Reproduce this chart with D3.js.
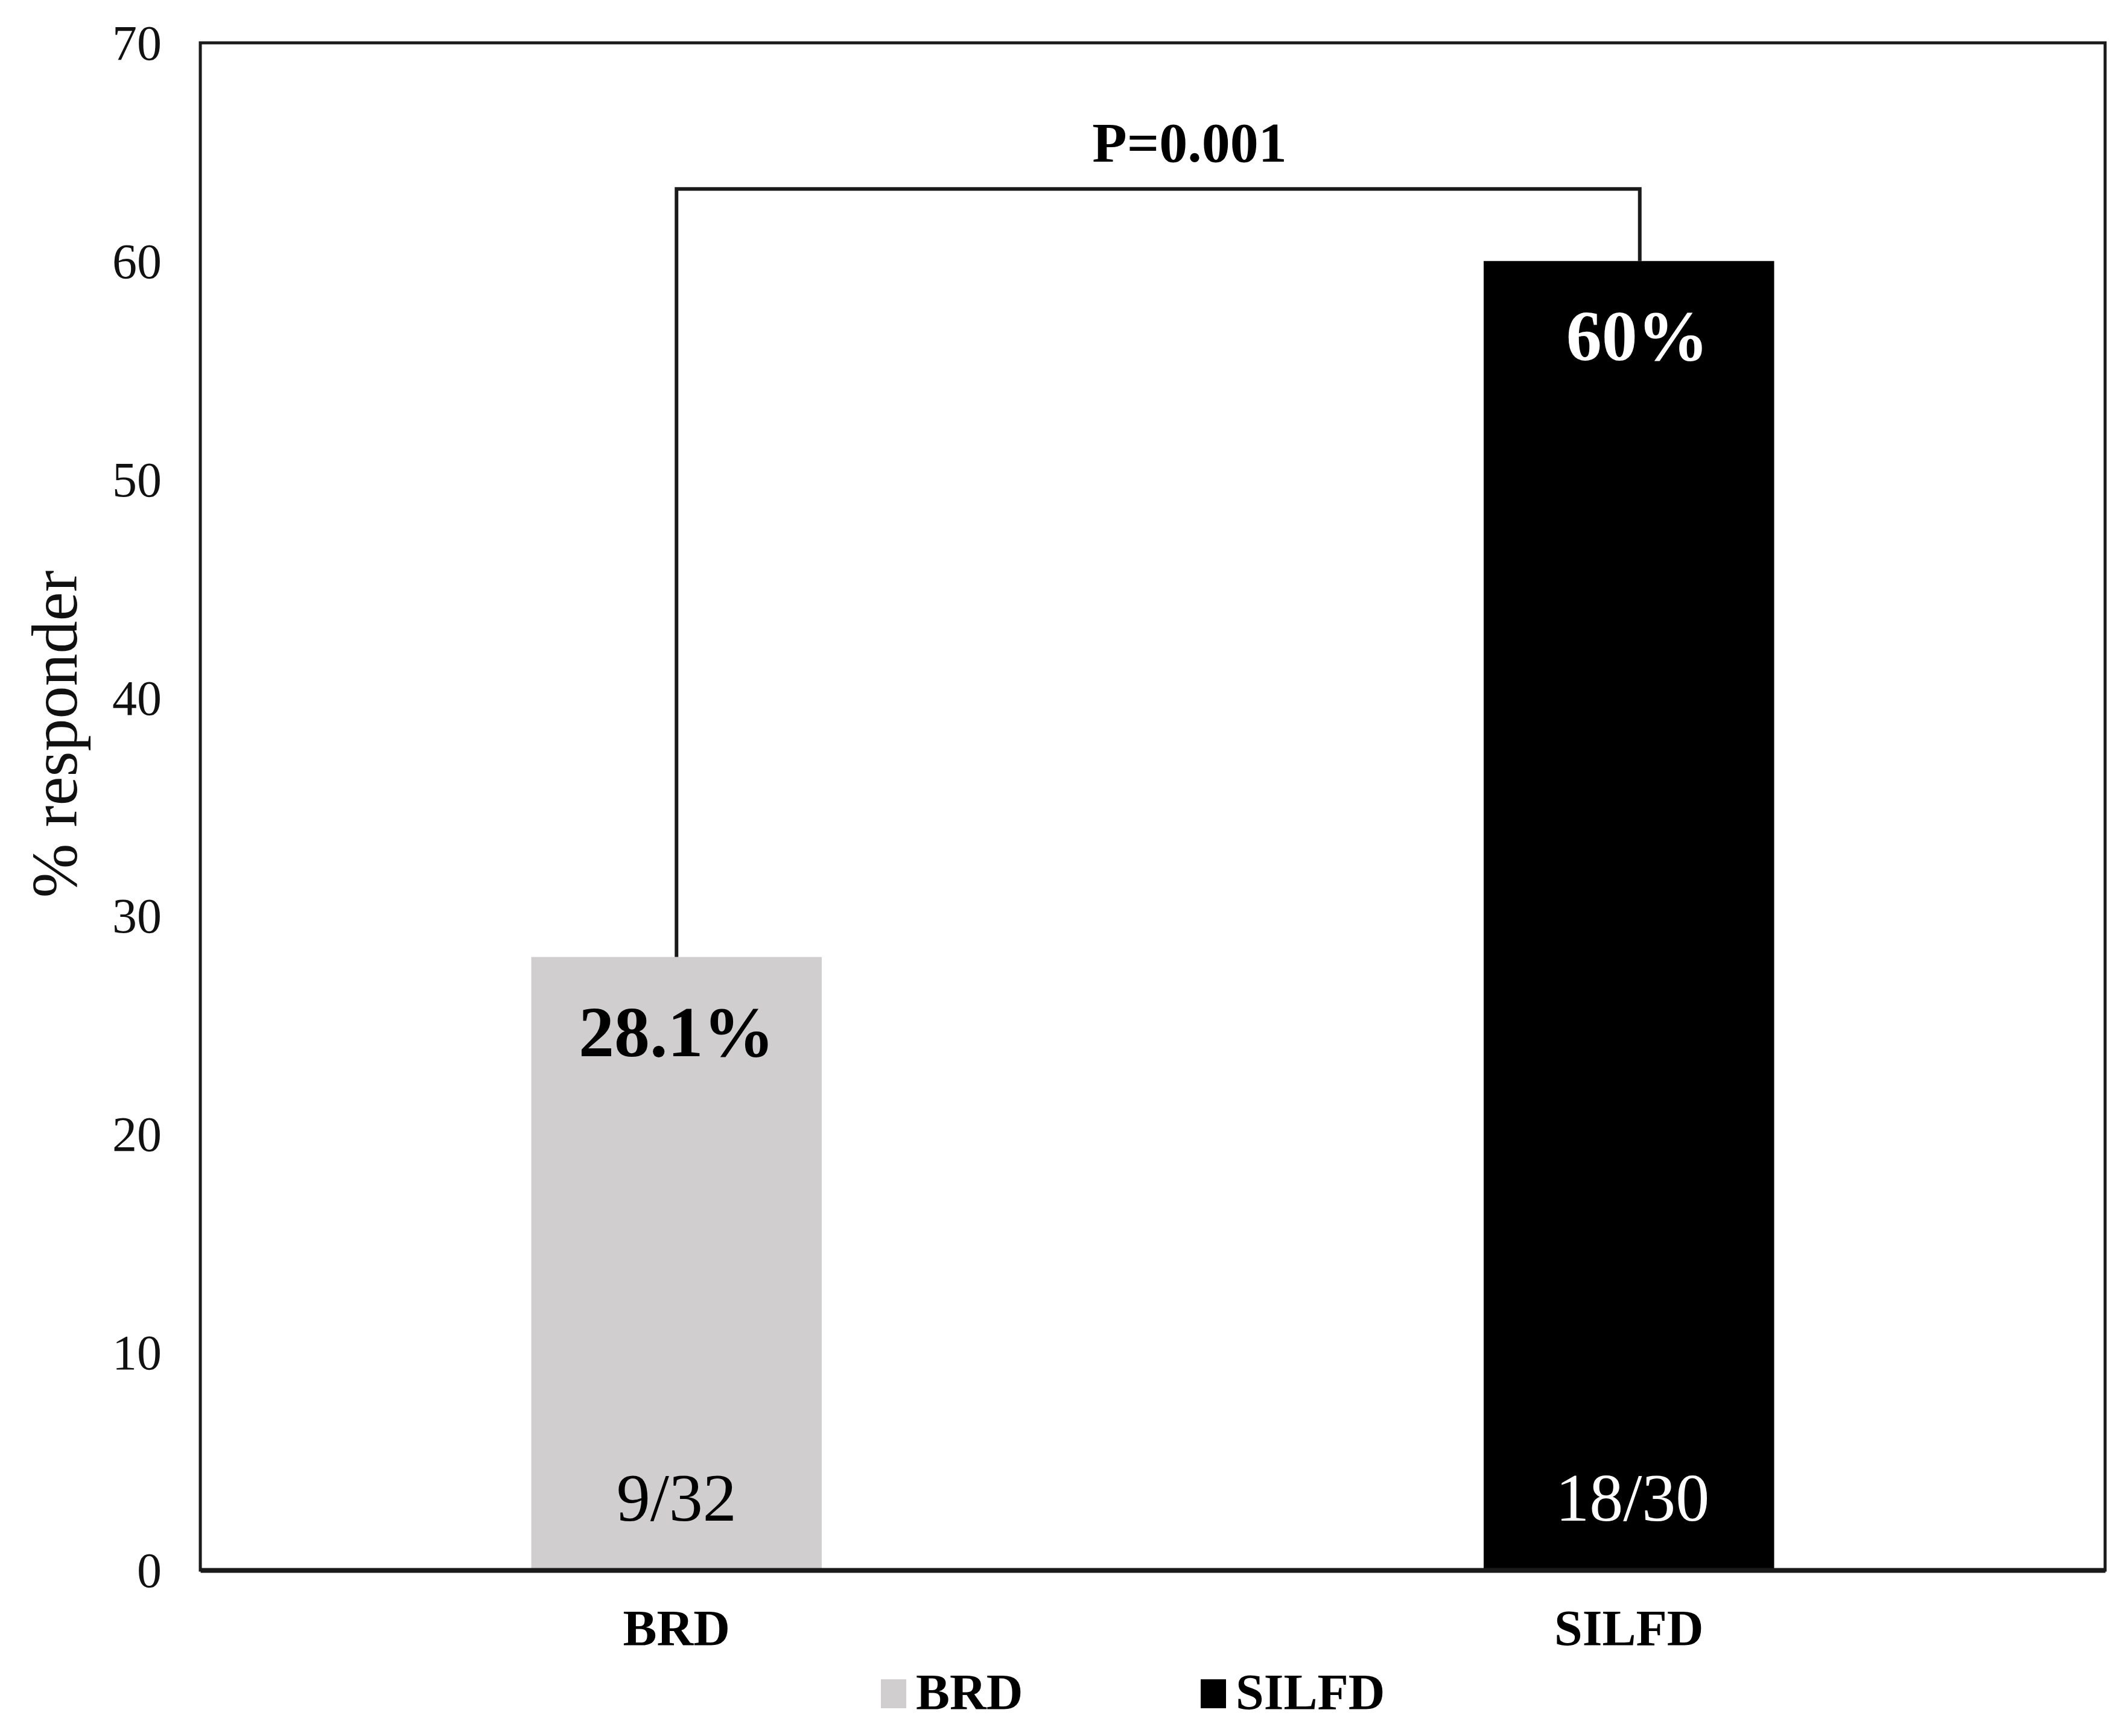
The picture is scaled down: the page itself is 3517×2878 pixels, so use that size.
<!DOCTYPE html>
<html>
<head>
<meta charset="utf-8">
<script src="https://cdn.jsdelivr.net/npm/d3@7"></script>
<style>
  html, body { margin: 0; padding: 0; background: #fff; }
  svg text { font-family: "Liberation Serif", "Times New Roman", serif; }
</style>
</head>
<body>
<div id="chart"></div>
<script>
// chart data
const groups = ['BRD', 'SILFD'];
const responderPct = [28.1, 60];
const responderLabels = ['28.1%', '60%'];
const countLabels = ['9/32', '18/30'];
const barColors = ['#d0cece', '#000000'];
const valueLabelColors = ['#000000', '#ffffff'];
const yTicks = [0, 10, 20, 30, 40, 50, 60, 70];
const pValueText = 'P=0.001';
const bracketLevel = 63.3;

const width = 3517, height = 2878;
const plot = { left: 332, right: 3489, top: 71, bottom: 2603 };

const svg = d3.select('#chart').append('svg')
    .attr('width', width)
    .attr('height', height);

const x = d3.scaleBand()
    .domain(groups)
    .range([plot.left, plot.right])
    .paddingInner(0.695)
    .paddingOuter(0.3475);

const y = d3.scaleLinear()
    .domain([0, 70])
    .range([plot.bottom, plot.top]);

const color = d3.scaleOrdinal().domain(groups).range(barColors);

const data = groups.map((g, i) => ({
    group: g,
    value: responderPct[i],
    label: responderLabels[i],
    count: countLabels[i],
    labelColor: valueLabelColors[i]
}));

// plot frame
svg.append('rect')
    .attr('x', plot.left)
    .attr('y', y(70))
    .attr('width', plot.right - plot.left)
    .attr('height', y(0) - y(70))
    .attr('fill', 'none')
    .attr('stroke', '#1a1a1a')
    .attr('stroke-width', 5);

// bars
svg.append('g').selectAll('rect')
    .data(data)
    .enter()
    .append('rect')
        .attr('x', d => x(d.group))
        .attr('y', d => y(d.value))
        .attr('width', x.bandwidth())
        .attr('height', d => y(0) - y(d.value))
        .attr('fill', d => color(d.group));

// y axis
svg.append('g')
    .attr('transform', 'translate(' + plot.left + ',0)')
    .call(d3.axisLeft(y).tickValues(yTicks).tickSize(0).tickPadding(64).tickFormat(d3.format('d')))
    .call(g => g.select('.domain').remove())
    .call(g => g.selectAll('text')
        .attr('font-size', 82)
        .attr('fill', '#111')
        .attr('dy', '0.34em')
        .style('font-family', '"Liberation Serif", "Times New Roman", serif'));

// x axis
svg.append('g')
    .attr('transform', 'translate(0,' + plot.bottom + ')')
    .call(d3.axisBottom(x).tickSize(0))
    .call(g => g.select('.domain')
        .attr('stroke', '#1a1a1a')
        .attr('stroke-width', 8))
    .call(g => g.selectAll('text')
        .attr('y', 125)
        .attr('dy', 0)
        .attr('font-size', 84)
        .attr('font-weight', 'bold')
        .attr('fill', '#000')
        .style('font-family', '"Liberation Serif", "Times New Roman", serif'));

// value labels inside bars
svg.append('g').selectAll('text')
    .data(data)
    .enter()
    .append('text')
        .attr('x', (d, i) => x(d.group) + x.bandwidth() / 2 + i * 14)
        .attr('y', d => y(d.value) + 164)
        .attr('text-anchor', 'middle')
        .attr('font-size', 118)
        .attr('font-weight', 'bold')
        .attr('fill', d => d.labelColor)
        .text(d => d.label);

// counts at the bottom of the bars
svg.append('g').selectAll('text')
    .data(data)
    .enter()
    .append('text')
        .attr('x', (d, i) => x(d.group) + x.bandwidth() / 2 + i * 6)
        .attr('y', y(0) - 82)
        .attr('text-anchor', 'middle')
        .attr('font-size', 112)
        .attr('fill', d => d.labelColor)
        .text(d => d.count);

// significance bracket
const xa = x(groups[0]) + x.bandwidth() / 2;
const xb = x(groups[1]) + x.bandwidth() / 2 + 18;
svg.append('path')
    .attr('d', d3.line()([
        [xa, y(responderPct[0])],
        [xa, y(bracketLevel)],
        [xb, y(bracketLevel)],
        [xb, y(responderPct[1])]
    ]))
    .attr('fill', 'none')
    .attr('stroke', '#1a1a1a')
    .attr('stroke-width', 6);

svg.append('text')
    .attr('x', (xa + xb) / 2 + 52)
    .attr('y', y(bracketLevel) - 45)
    .attr('text-anchor', 'middle')
    .attr('font-size', 94)
    .attr('font-weight', 'bold')
    .attr('fill', '#000')
    .text(pValueText);

// y axis title
svg.append('text')
    .attr('transform', 'translate(127,1217) rotate(-90)')
    .attr('text-anchor', 'middle')
    .attr('font-size', 108)
    .attr('fill', '#111')
    .text('% responder');

// legend
const legend = svg.append('g')
    .selectAll('g')
    .data(groups)
    .enter()
    .append('g')
        .attr('transform', (d, i) => 'translate(' + (1460 + i * 530) + ',2784)');

legend.append('rect')
    .attr('width', 42)
    .attr('height', 48)
    .attr('fill', d => color(d));

legend.append('text')
    .attr('x', 58)
    .attr('y', 50)
    .attr('font-size', 84)
    .attr('font-weight', 'bold')
    .attr('fill', '#000')
    .text(d => d);
</script>
</body>
</html>
